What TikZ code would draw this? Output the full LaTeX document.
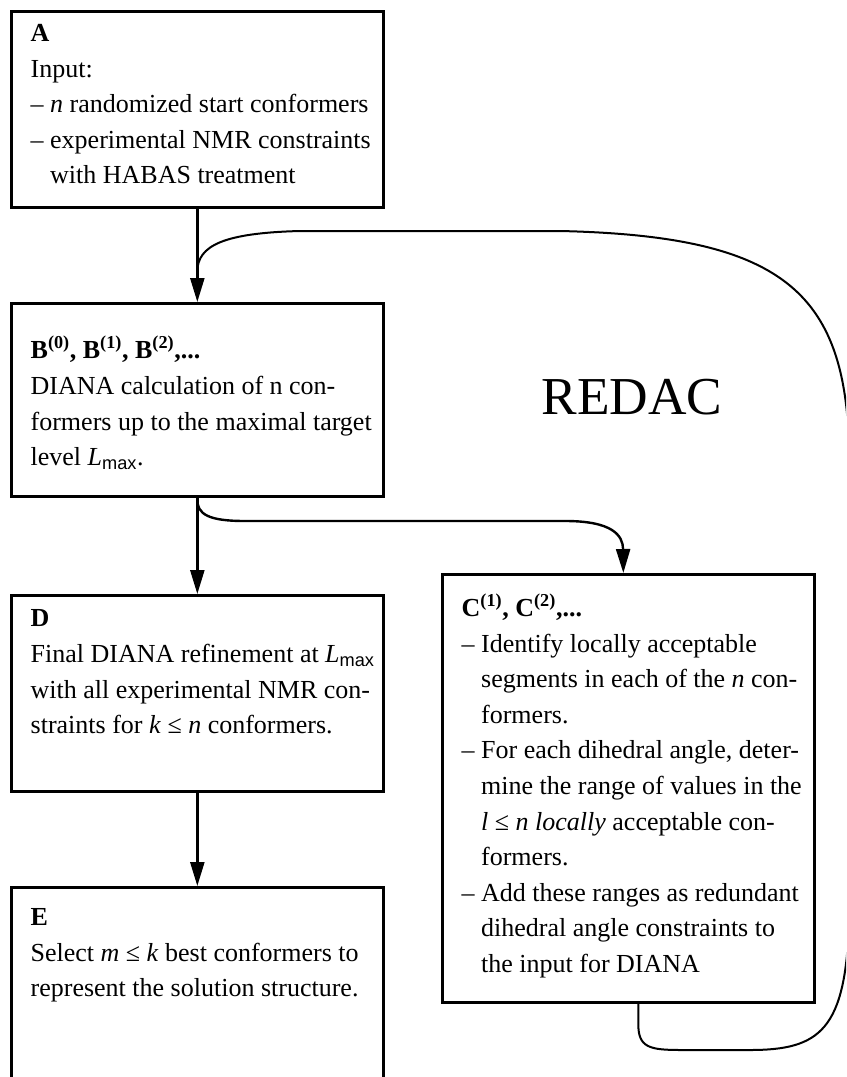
\documentclass[tikz,border=0pt]{standalone}
\usepackage{fontspec}
\setmainfont{Liberation Serif}
\newfontfamily\subsans{Liberation Sans}
\usetikzlibrary{arrows.meta,calc}

\tikzset{
  stage/.style={draw, line width=2pt, anchor=north west, inner xsep=14.5pt, inner ysep=0pt,
    font=\fontsize{19.5}{26.7}\selectfont},
  flow/.style={line width=1.8pt, -{Triangle[length=18pt,width=10.5pt]}},
  feedback/.style={line width=1.5pt, line cap=round}
}
\newcommand{\stagebox}[3]{\makebox[250pt][l]{\parbox[c][#1][t]{320pt}{\raggedright\vspace*{#2}\strut #3}}}
\newcommand{\cont}{\hphantom{–\ }}
\newcommand{\Lmax}{\textit{L}\textsubscript{\subsans max}}

\begin{document}
\begin{tikzpicture}[x=0.75pt,y=-0.75pt]
\useasboundingbox (0,0) rectangle (846,1077);
\clip (0,0) rectangle (846,1077);

\node[stage] (A) at (10,10) {\stagebox{147pt}{4pt}{\textbf{A}\\
Input:\\
– \textit{n} randomized start conformers\\
– experimental NMR constraints\\
\cont with HABAS treatment}};
\node[stage] (B) at (10,302) {\stagebox{144.75pt}{23pt}{\textbf{B\textsuperscript{(0)}, B\textsuperscript{(1)}, B\textsuperscript{(2)},...}\\
DIANA calculation of n con-\\
formers up to the maximal target\\
level \Lmax.}};
\node[stage] (D) at (10,594) {\stagebox{147pt}{5pt}{\textbf{D}\\
Final DIANA refinement at \Lmax\\
with all experimental NMR con-\\
straints for \textit{k} ≤ \textit{n} conformers.}};
\node[stage] (E) at (10,886) {\stagebox{200pt}{10pt}{\textbf{E}\\
Select \textit{m} ≤ \textit{k} best conformers to\\
represent the solution structure.}};
\node[stage] (C) at (441,573) {\stagebox{321pt}{13pt}{\textbf{C\textsuperscript{(1)}, C\textsuperscript{(2)},...}\\
– Identify locally acceptable\\
\cont segments in each of the \textit{n} con-\\
\cont formers.\\
– For each dihedral angle, deter-\\
\cont mine the range of values in the\\
\cont \textit{l} ≤ \textit{n locally} acceptable con-\\
\cont formers.\\
– Add these ranges as redundant\\
\cont dihedral angle constraints to\\
\cont the input for DIANA}};

\node[font=\fontsize{40}{48}\selectfont] (redac) at (632,397) {REDAC};

\coordinate (join) at ($(A.south)!0.68!(B.north)$);
\coordinate (Cin) at ($(C.north)+(-5,0)$);
\coordinate (Cout) at ($(C.south)+(10,0)$);

\draw[flow] (A.south) -- (B.north);
\draw[flow] (B.south) -- (D.north);
\draw[flow] (D.south) -- (E.north);
\draw[flow] (B.south) .. controls (196,515) and (210,521) .. (245,521) -- (565,521)
  .. controls (612,521) and (623,535) .. (Cin);
\draw[feedback] (Cout) -- ++(0,20) .. controls (638,1048) and (650,1050) .. (682,1050)
  -- (750,1050) .. controls (820,1050) and (846,1030) .. (849,920) -- (849,450)
  .. controls (846,290) and (780,236) .. (560,231) -- (300,231)
  .. controls (225,233) and (197,245) .. (join);
\end{tikzpicture}
\end{document}
